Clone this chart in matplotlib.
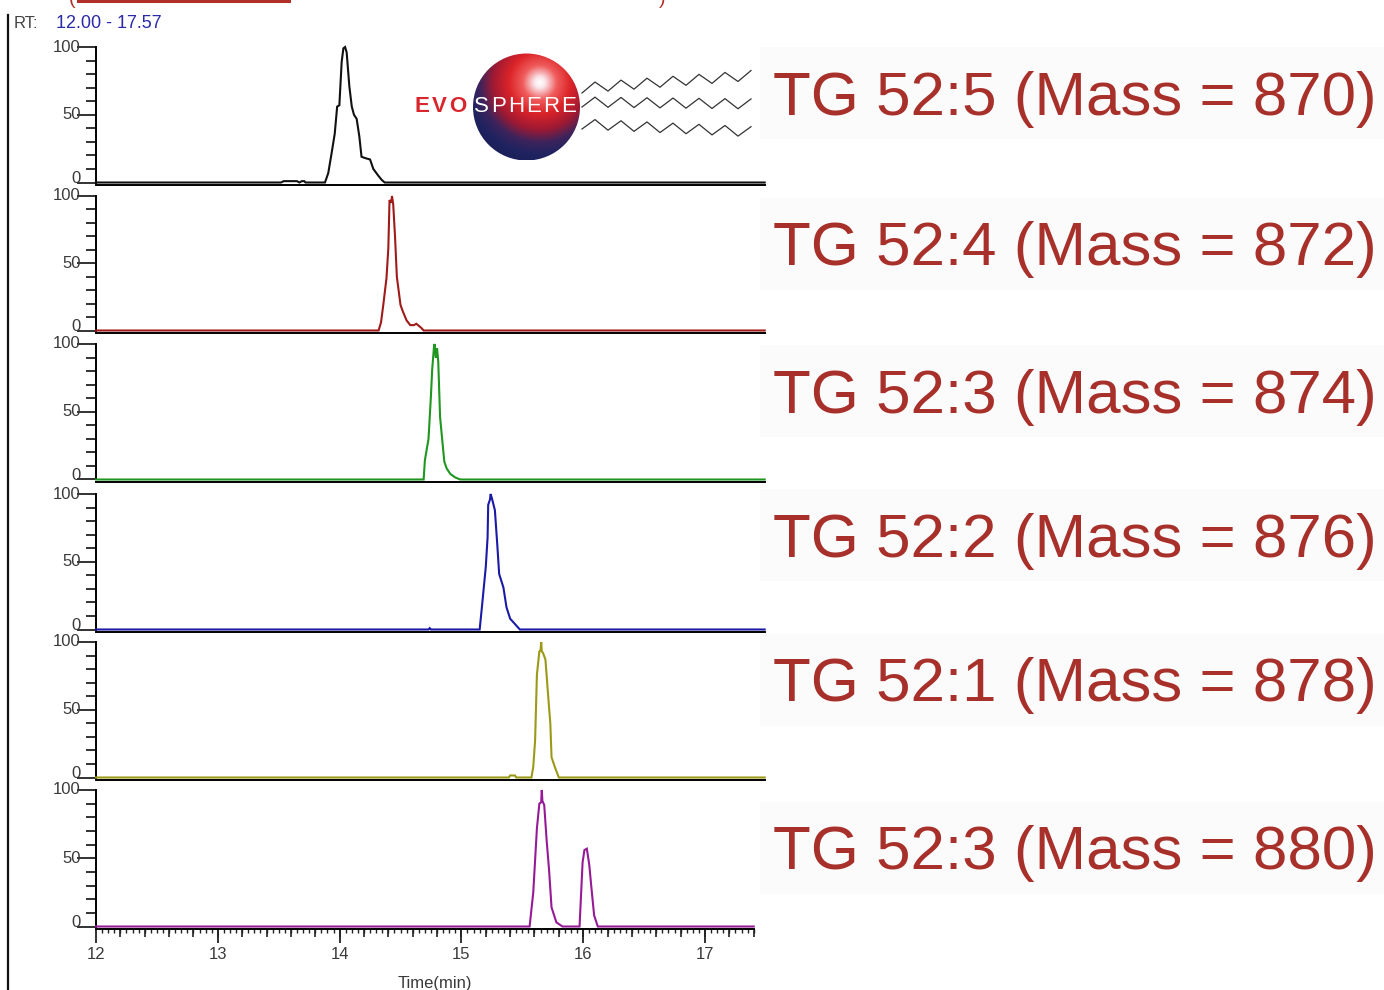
import numpy as np
import matplotlib
matplotlib.use("Agg")
import matplotlib.pyplot as plt
from matplotlib.patches import Circle, Rectangle
from matplotlib.ticker import FixedLocator, NullFormatter
from matplotlib.colors import LinearSegmentedColormap

plt.rcParams['font.family'] = ['Liberation Sans', 'DejaVu Sans']

# ---------------- data: extracted ion chromatograms (relative abundance %) ----------------
rt_range = (12.00, 17.57)

t_870 = [12.00, 13.52, 13.54, 13.60, 13.65, 13.67, 13.69, 13.71, 13.72, 13.86, 13.88, 13.907, 13.935,
         13.96, 13.98, 13.998, 14.017, 14.031, 14.045, 14.058, 14.08, 14.10, 14.118, 14.14, 14.162,
         14.18, 14.21, 14.25, 14.277, 14.318, 14.345, 14.37, 17.49]
i_870 = [0, 0, 1, 1, 1, 0, 1, 1, 0, 0, 0, 7, 22, 36, 56, 57, 89, 99, 100, 96, 71, 56, 50, 47, 34,
         19, 18, 17, 10, 5, 2, 0, 0]

t_872 = [12.00, 14.32, 14.34, 14.36, 14.385, 14.40, 14.41, 14.425, 14.43, 14.44, 14.455, 14.47,
         14.50, 14.52, 14.55, 14.58, 14.61, 14.63, 14.67, 14.69, 17.49]
i_872 = [0, 0, 6, 20, 39, 61, 97, 95, 100, 94, 70, 40, 19, 14, 7.5, 4, 4, 5, 2, 0, 0]

t_874 = [12.00, 14.69, 14.70, 14.73, 14.75, 14.76, 14.775, 14.78, 14.79, 14.80, 14.81, 14.825,
         14.845, 14.86, 14.88, 14.91, 14.95, 14.99, 17.49]
i_874 = [0, 0, 14, 30, 62, 81, 98, 100, 90, 97, 87, 46, 27, 13, 8, 4, 1.5, 0, 0]

t_876 = [12.00, 14.73, 14.74, 14.75, 15.15, 15.17, 15.20, 15.215, 15.22, 15.235, 15.24, 15.25,
         15.275, 15.295, 15.31, 15.345, 15.37, 15.40, 15.44, 15.48, 17.49]
i_876 = [0, 0, 1, 0, 0, 18, 46, 68, 92, 96, 100, 97, 88, 62, 41, 31, 16.5, 8, 4, 0, 0]

t_878 = [12.00, 15.39, 15.40, 15.44, 15.45, 15.575, 15.59, 15.605, 15.62, 15.64, 15.65, 15.655,
         15.66, 15.67, 15.69, 15.71, 15.73, 15.74, 15.77, 15.80, 17.49]
i_878 = [0, 0, 1.5, 1.5, 0, 0, 8, 27, 76, 93, 94, 100, 93, 92, 87, 63, 40, 15, 7, 0, 0]

t_880 = [12.00, 15.56, 15.59, 15.62, 15.64, 15.655, 15.66, 15.665, 15.68, 15.70, 15.72, 15.74,
         15.78, 15.83, 15.97, 15.995, 16.01, 16.03, 16.035, 16.05, 16.07, 16.09, 16.12, 17.40]
i_880 = [0, 0, 25, 72, 90, 91, 100, 92, 89, 63, 41, 14, 3, 0, 0, 47, 56, 57, 54, 45, 26, 8, 0, 0]

traces = [
    (t_870, i_870, "#111111", "TG 52:5 (Mass = 870)"),
    (t_872, i_872, "#a01a1a", "TG 52:4 (Mass = 872)"),
    (t_874, i_874, "#1f961f", "TG 52:3 (Mass = 874)"),
    (t_876, i_876, "#1a1aa6", "TG 52:2 (Mass = 876)"),
    (t_878, i_878, "#9a9a18", "TG 52:1 (Mass = 878)"),
    (t_880, i_880, "#961a96", "TG 52:3 (Mass = 880)"),
]

# ---------------- layout (pixel geometry) ----------------
W, H = 1384, 990
fig = plt.figure(figsize=(W / 100, H / 100), dpi=100)
fig.patch.set_facecolor("white")


def rect(l, t, r, b):
    return [l / W, 1 - b / H, (r - l) / W, (b - t) / H]


panel_tops = [47, 196, 344, 494, 642, 790]
panel_bots = [182.5, 330.5, 479.5, 629.5, 777.5, 926.5]
label_y = [93, 244, 391, 535, 680, 848]
x_left, x_right = 96, 765
x_max = 12 + (x_right - x_left) / 121.8

tick_color = "#3a3a3a"
for k, (tt, ii, col, lab) in enumerate(traces):
    ax = fig.add_axes(rect(x_left, panel_tops[k], x_right, panel_bots[k]))
    ax.set_facecolor("none")
    ax.plot(tt, ii, color=col, lw=1.5, clip_on=False, zorder=3, solid_joinstyle="miter")
    ax.set_xlim(12, x_max)
    ax.set_ylim(0, 100)
    for s in ("top", "right"):
        ax.spines[s].set_visible(False)
    ax.spines["left"].set_linewidth(1.4)
    ax.spines["bottom"].set_linewidth(1.4)
    ax.spines["bottom"].set_position(("outward", 2))
    ax.set_yticks([0, 50, 100])
    ax.yaxis.set_minor_locator(FixedLocator(np.arange(10, 100, 10)))
    ax.tick_params(axis="y", which="major", length=14, width=1.3, labelleft=False, color="#222222")
    ax.tick_params(axis="y", which="minor", length=7, width=1.3, color="#222222")
    for v in (0, 50, 100):
        dy = 4 if v == 0 else 0
        ax.annotate(str(v), xy=(0, v), xycoords=("axes fraction", "data"),
                    xytext=(-15, dy), textcoords="offset pixels", ha="right", va="center",
                    fontsize=12, color=tick_color)
    last = k == len(traces) - 1
    if last:
        ax.spines["bottom"].set_bounds(12, 17.4)
        ax.set_xticks([12, 13, 14, 15, 16, 17])
        ax.set_xticklabels(["12", "13", "14", "15", "16", "17"])
        ax.xaxis.set_minor_locator(FixedLocator(np.round(np.arange(12, 17.401, 0.05), 2)))
        ax.tick_params(axis="x", which="major", length=10, width=1.3, labelsize=12,
                       labelcolor=tick_color, pad=3, color="#222222")
        ax.tick_params(axis="x", which="minor", length=3, width=1.0, color="#222222")
        h_px = panel_bots[k] - panel_tops[k]
        sec = ax.secondary_xaxis(-2 / h_px)
        sec.spines["bottom"].set_visible(False)
        sec.set_xticks(np.round(np.arange(12.2, 17.401, 0.2), 1))
        sec.xaxis.set_major_formatter(NullFormatter())
        sec.tick_params(axis="x", which="major", length=6, width=1.2, color="#222222")
        ax.set_xlabel("Time(min)", fontsize=12, color=tick_color, labelpad=6)
        ax.xaxis.set_label_coords((435 - x_left) / (x_right - x_left), -0.36)
    else:
        ax.set_xticks([])

# ---------------- overlay: frame, header, logo, labels ----------------
ov = fig.add_axes([0, 0, 1, 1], zorder=10)
ov.set_xlim(0, W)
ov.set_ylim(H, 0)
ov.axis("off")
ov.set_facecolor("none")

# outer frame line and header fragment
ov.plot([8, 8], [15, 990], color="#111111", lw=1.6)
ov.add_patch(Rectangle((77, -2), 214, 5, color="#b03028", lw=0))
ov.text(72, 0, "(", color="#b03028", fontsize=14, va="center", ha="center")
ov.text(662, 0, ")", color="#b03028", fontsize=14, va="center", ha="center")

ov.text(14, 24, "RT:", fontsize=12, color="#444444", va="center", ha="left")
ov.text(56, 24, f"{rt_range[0]:.2f} - {rt_range[1]:.2f}", fontsize=13, color="#2a2aa8",
        va="center", ha="left")

# right-hand compound labels
for k, (tt, ii, col, lab) in enumerate(traces):
    cy = label_y[k]
    ov.add_patch(Rectangle((760, cy - 46), W - 760, 92, color="#fbfbfb", lw=0, zorder=1))
    ov.text(773, cy + 6, lab, fontsize=44.6, color="#a8302a", va="center", ha="left", zorder=2)

# logo: shaded sphere
cx, cy, r = 526.5, 107, 53.5
n = 300
u, v = np.meshgrid(np.linspace(-1, 1, n), np.linspace(1, -1, n))
d = np.sqrt((u - 0.25) ** 2 + (v - 0.45) ** 2)
stops = [(0.0, (1.0, 1.0, 1.0)), (0.10, (0.98, 0.90, 0.92)), (0.32, (0.94, 0.36, 0.36)),
         (0.58, (0.86, 0.14, 0.16)), (0.88, (0.62, 0.10, 0.20)), (1.12, (0.24, 0.14, 0.36)),
         (1.35, (0.12, 0.14, 0.38)), (1.6, (0.10, 0.12, 0.34))]
cmap = LinearSegmentedColormap.from_list("sph", [(p / 1.6, c) for p, c in stops])
img = ov.imshow(d, cmap=cmap, vmin=0, vmax=1.6, extent=(cx - r, cx + r, cy + r, cy - r),
                aspect="auto", interpolation="bilinear", zorder=5)
img.set_clip_path(Circle((cx, cy), r, transform=ov.transData))
ov.set_xlim(0, W)
ov.set_ylim(H, 0)

# letter-spaced wordmark
word = "EVOSPHERE"
x_pos = [415, 432, 449, 474, 491, 508, 526, 543, 561]
for ch, xp, j in zip(word, x_pos, range(len(word))):
    ov.text(xp, 107, ch, fontsize=16, color="#d8262c" if j < 3 else "white",
            fontweight="bold" if j < 3 else "normal", va="center", ha="left", zorder=6)

# logo: fatty-acid chains
for y0, y1 in [(88, 75), (102, 104), (124, 132)]:
    xs = np.arange(582, 760, 13.0)
    base = np.interp(xs, [582, 758], [y0, y1])
    zz = base + np.where(np.arange(len(xs)) % 2 == 0, 5, -5)
    ov.plot(xs, zz, color="#333333", lw=0.9, zorder=6)

fig.savefig("out.png", dpi=100, facecolor="white")
